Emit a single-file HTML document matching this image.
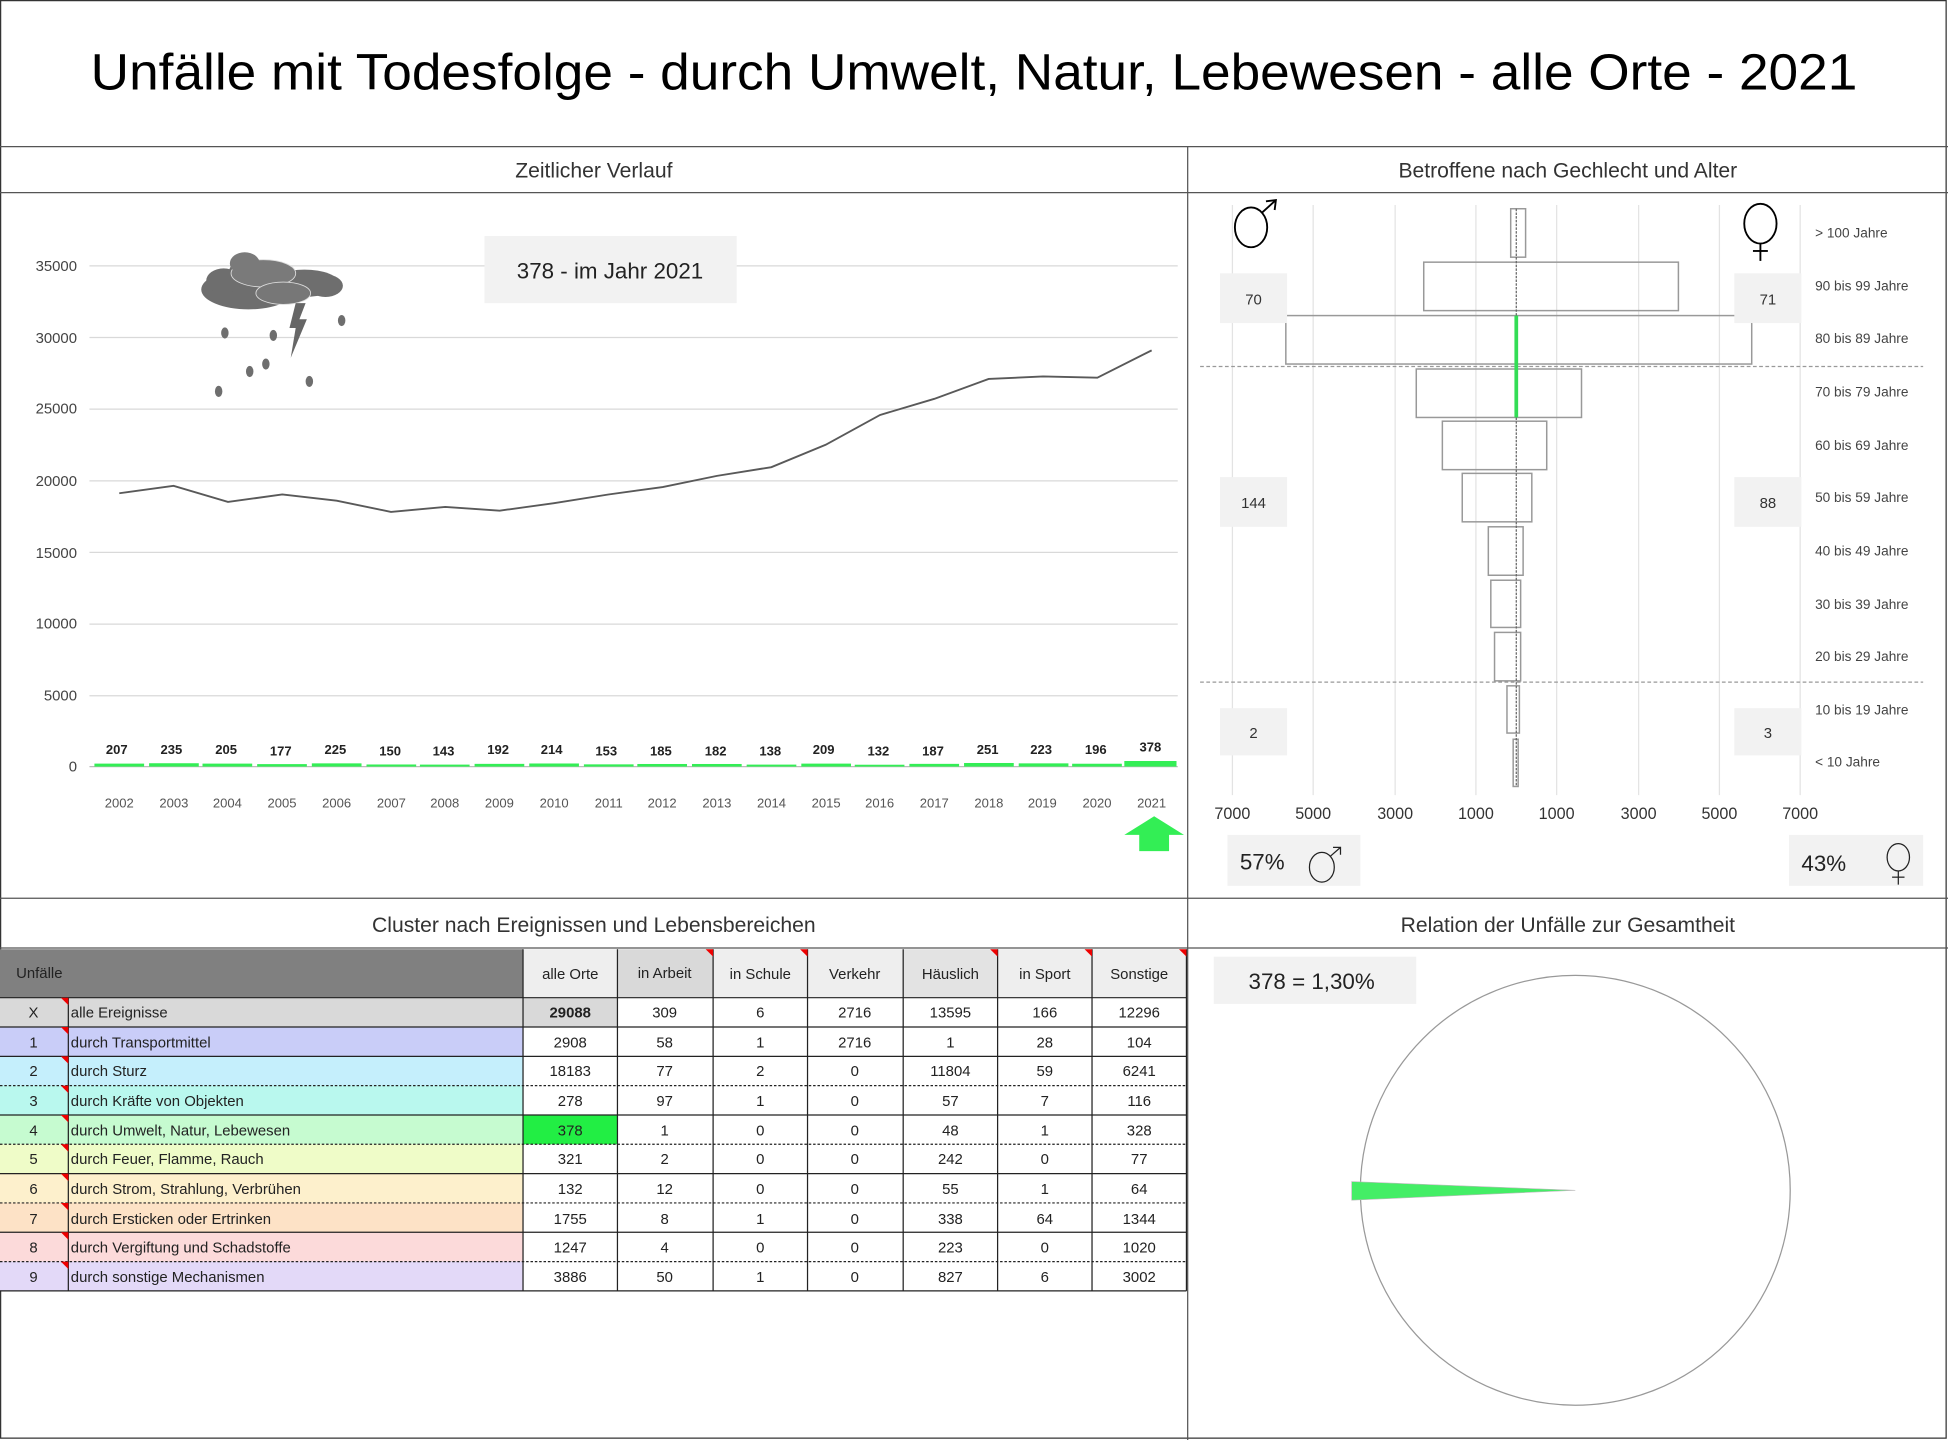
<!DOCTYPE html>
<html><head><meta charset="utf-8"><style>
html,body{margin:0;padding:0;background:#fff;}
svg{display:block;font-family:"Liberation Sans",sans-serif;}
</style></head><body>
<svg width="1948" height="1440" viewBox="0 0 1568 1159" preserveAspectRatio="none" xmlns="http://www.w3.org/2000/svg">
<rect x="0.5" y="0.5" width="1566" height="1157" fill="#fff" stroke="#333" stroke-width="1"/>
<text x="73" y="72" font-size="41" textLength="1422" lengthAdjust="spacingAndGlyphs" fill="#000">Unfälle mit Todesfolge - durch Umwelt, Natur, Lebewesen - alle Orte - 2021</text>
<g stroke="#555" stroke-width="1">
<line x1="0" y1="118" x2="1568" y2="118"/>
<line x1="0" y1="155" x2="1568" y2="155"/>
<line x1="956" y1="118" x2="956" y2="1159"/>
<line x1="0" y1="723" x2="1568" y2="723"/>
<line x1="0" y1="763" x2="1568" y2="763"/>
</g>
<g font-size="17" fill="#333" text-anchor="middle">
<text x="478" y="143">Zeitlicher Verlauf</text>
<text x="1262" y="143">Betroffene nach Gechlecht und Alter</text>
<text x="478" y="750">Cluster nach Ereignissen und Lebensbereichen</text>
<text x="1262" y="750">Relation der Unfälle zur Gesamtheit</text>
</g>
<!-- line chart -->
<g stroke="#d9d9d9" stroke-width="1">
<line x1="72" y1="214" x2="948" y2="214"/><line x1="72" y1="271.6" x2="948" y2="271.6"/>
<line x1="72" y1="329.3" x2="948" y2="329.3"/><line x1="72" y1="387" x2="948" y2="387"/>
<line x1="72" y1="444.6" x2="948" y2="444.6"/><line x1="72" y1="502.3" x2="948" y2="502.3"/>
<line x1="72" y1="560" x2="948" y2="560"/><line x1="72" y1="617" x2="948" y2="617" stroke="#bbb"/>
</g>
<g font-size="12" fill="#444" text-anchor="end">
<text x="62" y="218">35000</text><text x="62" y="276">30000</text><text x="62" y="333">25000</text>
<text x="62" y="391">20000</text><text x="62" y="449">15000</text><text x="62" y="506">10000</text>
<text x="62" y="564">5000</text><text x="62" y="621">0</text>
</g>
<polyline fill="none" stroke="#595959" stroke-width="1.5" points="96,397 139.7,391 183.5,404 227.2,398 271,403 314.7,412 358.4,408 402.2,411 445.9,405 489.7,398 533.4,392 577.1,383 620.9,376 664.6,358 708.4,334 752.1,321 795.8,305 839.6,303 883.3,304 927,282"/>
<g fill="#33ee55">
<rect x="76" y="614.6" width="40" height="2.4"/><rect x="120" y="614.3" width="40" height="2.7"/><rect x="163" y="614.6" width="40" height="2.4"/><rect x="207" y="615" width="40" height="2"/><rect x="251" y="614.4" width="40" height="2.6"/><rect x="295" y="615.3" width="40" height="1.7"/><rect x="338" y="615.4" width="40" height="1.6"/><rect x="382" y="614.8" width="40" height="2.2"/><rect x="426" y="614.5" width="40" height="2.5"/><rect x="470" y="615.2" width="40" height="1.8"/><rect x="513" y="614.9" width="40" height="2.1"/><rect x="557" y="614.9" width="40" height="2.1"/><rect x="601" y="615.4" width="40" height="1.6"/><rect x="645" y="614.6" width="40" height="2.4"/><rect x="688" y="615.5" width="40" height="1.5"/><rect x="732" y="614.8" width="40" height="2.2"/><rect x="776" y="614.1" width="40" height="2.9"/><rect x="820" y="614.4" width="40" height="2.6"/><rect x="863" y="614.7" width="40" height="2.3"/><rect x="905" y="612.5" width="42" height="4.5"/>
</g>
<g font-size="10.5" font-weight="bold" fill="#222" text-anchor="middle">
<text x="94" y="607">207</text><text x="138" y="607">235</text><text x="182" y="607">205</text><text x="226" y="608">177</text><text x="270" y="607">225</text><text x="314" y="608">150</text><text x="357" y="608">143</text><text x="401" y="607">192</text><text x="444" y="607">214</text><text x="488" y="608">153</text><text x="532" y="608">185</text><text x="576" y="608">182</text><text x="620" y="608">138</text><text x="663" y="607">209</text><text x="707" y="608">132</text><text x="751" y="608">187</text><text x="795" y="607">251</text><text x="838" y="607">223</text><text x="882" y="607">196</text><text x="926" y="605">378</text>
</g>
<g font-size="10.5" fill="#555" text-anchor="middle">
<text x="96" y="650">2002</text><text x="140" y="650">2003</text><text x="183" y="650">2004</text><text x="227" y="650">2005</text><text x="271" y="650">2006</text><text x="315" y="650">2007</text><text x="358" y="650">2008</text><text x="402" y="650">2009</text><text x="446" y="650">2010</text><text x="490" y="650">2011</text><text x="533" y="650">2012</text><text x="577" y="650">2013</text><text x="621" y="650">2014</text><text x="665" y="650">2015</text><text x="708" y="650">2016</text><text x="752" y="650">2017</text><text x="796" y="650">2018</text><text x="839" y="650">2019</text><text x="883" y="650">2020</text><text x="927" y="650">2021</text>
</g>
<polygon points="929,657 953,672 941,672 941,685 917,685 917,672 905,672" fill="#33ee55"/>
<rect x="390" y="190" width="203" height="54" fill="#f2f2f2"/>
<text x="491" y="224" font-size="18" text-anchor="middle" fill="#222">378 - im Jahr 2021</text>
<!-- cloud -->
<g fill="#6e6e6e">
<ellipse cx="200" cy="233" rx="38" ry="16"/><ellipse cx="180" cy="226" rx="14" ry="10"/><ellipse cx="200" cy="220" rx="16" ry="12"/>
<ellipse cx="245" cy="228" rx="28" ry="11"/><ellipse cx="262" cy="230" rx="14" ry="9"/>
<ellipse cx="212" cy="220" rx="26" ry="11" fill="#7a7a7a" stroke="#ddd" stroke-width="0.7"/>
<ellipse cx="197" cy="212" rx="12" ry="9" fill="#7a7a7a"/>
<ellipse cx="228" cy="236" rx="22" ry="9" fill="#777" stroke="#ddd" stroke-width="0.7"/>
<polygon points="238,244 246,244 241,257 247,257 234,288 238,264 233,264" fill="#666"/>
<ellipse cx="181" cy="268" rx="3" ry="4.5"/><ellipse cx="220" cy="270" rx="3" ry="4.5"/><ellipse cx="275" cy="258" rx="3" ry="4.5"/>
<ellipse cx="201" cy="299" rx="3" ry="4.5"/><ellipse cx="214" cy="293" rx="3" ry="4.5"/><ellipse cx="176" cy="315" rx="3" ry="4.5"/><ellipse cx="249" cy="307" rx="3" ry="4.5"/>
</g>
<!-- pyramid -->
<g stroke="#e3e3e3" stroke-width="1">
<line x1="992" y1="165" x2="992" y2="640"/><line x1="1057" y1="165" x2="1057" y2="640"/><line x1="1123" y1="165" x2="1123" y2="640"/><line x1="1188" y1="165" x2="1188" y2="640"/><line x1="1253" y1="165" x2="1253" y2="640"/><line x1="1319" y1="165" x2="1319" y2="640"/><line x1="1384" y1="165" x2="1384" y2="640"/><line x1="1449" y1="165" x2="1449" y2="640"/>
</g>
<g stroke="#999" stroke-width="1" stroke-dasharray="3,2">
<line x1="966" y1="295" x2="1548" y2="295"/><line x1="966" y1="549" x2="1548" y2="549"/>
</g>
<g fill="none" stroke="#999" stroke-width="1.2">
<rect x="1216" y="168" width="12" height="39"/>
<rect x="1146" y="211" width="205" height="39"/>
<rect x="1035" y="254" width="375" height="39"/>
<rect x="1140" y="297" width="133" height="39"/>
<rect x="1161" y="339" width="84" height="39"/>
<rect x="1177" y="381" width="56" height="39"/>
<rect x="1198" y="424" width="28" height="39"/>
<rect x="1200" y="467" width="24" height="38"/>
<rect x="1203" y="509" width="21" height="39"/>
<rect x="1213" y="552" width="10" height="38"/>
<rect x="1218" y="595" width="4" height="38"/>
</g>
<line x1="1220.5" y1="168" x2="1220.5" y2="633" stroke="#666" stroke-width="1" stroke-dasharray="2,1"/>
<rect x="1219" y="254" width="3" height="82" fill="#33dd55"/>
<g fill="#f2f2f2">
<rect x="982" y="220" width="54" height="40"/><rect x="1396" y="220" width="54" height="40"/>
<rect x="982" y="384" width="54" height="40"/><rect x="1396" y="384" width="54" height="40"/>
<rect x="982" y="570" width="54" height="38"/><rect x="1396" y="570" width="54" height="38"/>
<rect x="988" y="672" width="107" height="41"/><rect x="1440" y="672" width="108" height="41"/>
</g>
<g font-size="12" fill="#333" text-anchor="middle">
<text x="1009" y="245">70</text><text x="1423" y="245">71</text>
<text x="1009" y="409">144</text><text x="1423" y="409">88</text>
<text x="1009" y="594">2</text><text x="1423" y="594">3</text>
</g>
<g font-size="11" fill="#444">
<text x="1461" y="191">&gt; 100 Jahre</text><text x="1461" y="234">90 bis 99 Jahre</text><text x="1461" y="276">80 bis 89 Jahre</text><text x="1461" y="319">70 bis 79 Jahre</text><text x="1461" y="362">60 bis 69 Jahre</text><text x="1461" y="404">50 bis 59 Jahre</text><text x="1461" y="447">40 bis 49 Jahre</text><text x="1461" y="490">30 bis 39 Jahre</text><text x="1461" y="532">20 bis 29 Jahre</text><text x="1461" y="575">10 bis 19 Jahre</text><text x="1461" y="617">&lt; 10 Jahre</text>
</g>
<g font-size="13" fill="#333" text-anchor="middle">
<text x="992" y="659">7000</text><text x="1057" y="659">5000</text><text x="1123" y="659">3000</text><text x="1188" y="659">1000</text><text x="1253" y="659">1000</text><text x="1319" y="659">3000</text><text x="1384" y="659">5000</text><text x="1449" y="659">7000</text>
</g>
<!-- gender symbols -->
<g fill="none" stroke="#000" stroke-width="1.5">
<ellipse cx="1007" cy="183" rx="13" ry="16"/><line x1="1016" y1="171" x2="1027" y2="161"/><polyline points="1019,162 1027,161 1026,169"/>
<ellipse cx="1417" cy="180" rx="13" ry="16"/><line x1="1417" y1="196" x2="1417" y2="210"/><line x1="1411" y1="202" x2="1423" y2="202"/>
</g>
<g font-size="18" fill="#222"><text x="998" y="700">57%</text><text x="1450" y="701">43%</text></g>
<g fill="none" stroke="#222" stroke-width="1">
<ellipse cx="1064" cy="698" rx="10" ry="12"/><line x1="1071" y1="689" x2="1079" y2="682"/><polyline points="1073,682 1079,682 1079,688"/>
<ellipse cx="1528" cy="690" rx="9" ry="11"/><line x1="1528" y1="701" x2="1528" y2="712"/><line x1="1523" y1="706" x2="1533" y2="706"/>
</g>
<!-- table -->
<rect x="0" y="764" width="421" height="39" fill="#808080"/>
<rect x="421" y="764" width="76" height="39" fill="#eeeeee"/>
<rect x="497" y="764" width="77" height="39" fill="#d9d9d9"/>
<rect x="574" y="764" width="76" height="39" fill="#eeeeee"/>
<rect x="650" y="764" width="77" height="39" fill="#eeeeee"/>
<rect x="727" y="764" width="76" height="39" fill="#e3e3e3"/>
<rect x="803" y="764" width="76" height="39" fill="#eeeeee"/>
<rect x="879" y="764" width="76" height="39" fill="#eeeeee"/>
<g>
<rect x="0" y="803" width="421" height="23.6" fill="#d9d9d9"/><rect x="421" y="803" width="76" height="23.6" fill="#d9d9d9"/>
<rect x="0" y="826.6" width="421" height="23.6" fill="#c9cdf8"/>
<rect x="0" y="850.2" width="421" height="23.6" fill="#c5effc"/>
<rect x="0" y="873.8" width="421" height="23.6" fill="#b9f8ee"/>
<rect x="0" y="897.4" width="421" height="23.6" fill="#c6fbd0"/><rect x="421" y="897.4" width="76" height="23.6" fill="#22ee44"/>
<rect x="0" y="921" width="421" height="23.6" fill="#effcc8"/>
<rect x="0" y="944.6" width="421" height="23.6" fill="#fdf0cc"/>
<rect x="0" y="968.2" width="421" height="23.6" fill="#fde2c6"/>
<rect x="0" y="991.8" width="421" height="23.6" fill="#fcdada"/>
<rect x="0" y="1015.4" width="421" height="23.6" fill="#e3d9f8"/>
</g>
<g stroke="#222" stroke-width="1">
<line x1="0" y1="803" x2="955" y2="803"/><line x1="0" y1="826.6" x2="955" y2="826.6"/><line x1="0" y1="850.2" x2="955" y2="850.2"/>
<line x1="0" y1="897.4" x2="955" y2="897.4"/><line x1="0" y1="944.6" x2="955" y2="944.6"/><line x1="0" y1="991.8" x2="955" y2="991.8"/>
<line x1="0" y1="1039" x2="955" y2="1039"/>
<line x1="55" y1="803" x2="55" y2="1039"/><line x1="421" y1="764" x2="421" y2="1039"/><line x1="497" y1="764" x2="497" y2="1039"/><line x1="574" y1="764" x2="574" y2="1039"/><line x1="650" y1="764" x2="650" y2="1039"/><line x1="727" y1="764" x2="727" y2="1039"/><line x1="803" y1="764" x2="803" y2="1039"/><line x1="879" y1="764" x2="879" y2="1039"/><line x1="955" y1="764" x2="955" y2="1039"/>
</g>
<g stroke="#222" stroke-width="1" stroke-dasharray="2,1.5">
<line x1="0" y1="873.8" x2="955" y2="873.8"/><line x1="0" y1="921" x2="955" y2="921"/><line x1="0" y1="968.2" x2="955" y2="968.2"/><line x1="0" y1="1015.4" x2="955" y2="1015.4"/>
</g>
<g fill="#e00">
<polygon points="49,803 55,803 55,809"/><polygon points="49,826.6 55,826.6 55,832.6"/><polygon points="49,850.2 55,850.2 55,856.2"/><polygon points="49,873.8 55,873.8 55,879.8"/><polygon points="49,897.4 55,897.4 55,903.4"/><polygon points="49,921 55,921 55,927"/><polygon points="49,944.6 55,944.6 55,950.6"/><polygon points="49,968.2 55,968.2 55,974.2"/><polygon points="49,991.8 55,991.8 55,997.8"/><polygon points="49,1015.4 55,1015.4 55,1021.4"/>
<polygon points="568,764 574,764 574,770"/><polygon points="644,764 650,764 650,770"/><polygon points="797,764 803,764 803,770"/><polygon points="873,764 879,764 879,770"/><polygon points="949,764 955,764 955,770"/>
</g>
<g font-size="12" fill="#222">
<text x="13" y="787" fill="#222">Unfälle</text>
<text x="459" y="788" text-anchor="middle">alle Orte</text><text x="535" y="787" text-anchor="middle">in Arbeit</text><text x="612" y="788" text-anchor="middle">in Schule</text><text x="688" y="788" text-anchor="middle">Verkehr</text><text x="765" y="788" text-anchor="middle">Häuslich</text><text x="841" y="788" text-anchor="middle">in Sport</text><text x="917" y="788" text-anchor="middle">Sonstige</text>
</g>
<g font-size="12" fill="#222">
<g text-anchor="middle">
<text x="27" y="819">X</text><text x="27" y="843">1</text><text x="27" y="866">2</text><text x="27" y="890">3</text><text x="27" y="914">4</text><text x="27" y="937">5</text><text x="27" y="961">6</text><text x="27" y="985">7</text><text x="27" y="1008">8</text><text x="27" y="1032">9</text>
</g>
<text x="57" y="819">alle Ereignisse</text><text x="57" y="843">durch Transportmittel</text><text x="57" y="866">durch Sturz</text><text x="57" y="890">durch Kräfte von Objekten</text><text x="57" y="914">durch Umwelt, Natur, Lebewesen</text><text x="57" y="937">durch Feuer, Flamme, Rauch</text><text x="57" y="961">durch Strom, Strahlung, Verbrühen</text><text x="57" y="985">durch Ersticken oder Ertrinken</text><text x="57" y="1008">durch Vergiftung und Schadstoffe</text><text x="57" y="1032">durch sonstige Mechanismen</text>
<g text-anchor="middle">
<text x="459" y="819" font-weight="bold">29088</text><text x="535" y="819">309</text><text x="612" y="819">6</text><text x="688" y="819">2716</text><text x="765" y="819">13595</text><text x="841" y="819">166</text><text x="917" y="819">12296</text>
<text x="459" y="843">2908</text><text x="535" y="843">58</text><text x="612" y="843">1</text><text x="688" y="843">2716</text><text x="765" y="843">1</text><text x="841" y="843">28</text><text x="917" y="843">104</text>
<text x="459" y="866">18183</text><text x="535" y="866">77</text><text x="612" y="866">2</text><text x="688" y="866">0</text><text x="765" y="866">11804</text><text x="841" y="866">59</text><text x="917" y="866">6241</text>
<text x="459" y="890">278</text><text x="535" y="890">97</text><text x="612" y="890">1</text><text x="688" y="890">0</text><text x="765" y="890">57</text><text x="841" y="890">7</text><text x="917" y="890">116</text>
<text x="459" y="914">378</text><text x="535" y="914">1</text><text x="612" y="914">0</text><text x="688" y="914">0</text><text x="765" y="914">48</text><text x="841" y="914">1</text><text x="917" y="914">328</text>
<text x="459" y="937">321</text><text x="535" y="937">2</text><text x="612" y="937">0</text><text x="688" y="937">0</text><text x="765" y="937">242</text><text x="841" y="937">0</text><text x="917" y="937">77</text>
<text x="459" y="961">132</text><text x="535" y="961">12</text><text x="612" y="961">0</text><text x="688" y="961">0</text><text x="765" y="961">55</text><text x="841" y="961">1</text><text x="917" y="961">64</text>
<text x="459" y="985">1755</text><text x="535" y="985">8</text><text x="612" y="985">1</text><text x="688" y="985">0</text><text x="765" y="985">338</text><text x="841" y="985">64</text><text x="917" y="985">1344</text>
<text x="459" y="1008">1247</text><text x="535" y="1008">4</text><text x="612" y="1008">0</text><text x="688" y="1008">0</text><text x="765" y="1008">223</text><text x="841" y="1008">0</text><text x="917" y="1008">1020</text>
<text x="459" y="1032">3886</text><text x="535" y="1032">50</text><text x="612" y="1032">1</text><text x="688" y="1032">0</text><text x="765" y="1032">827</text><text x="841" y="1032">6</text><text x="917" y="1032">3002</text>
</g>
</g>
<!-- pie -->
<circle cx="1268" cy="958" r="173" fill="#fff" stroke="#999" stroke-width="1"/>
<polygon points="1268,958 1088,951 1088,966" fill="#44ee66" stroke="#bbb" stroke-width="0.5"/>
<rect x="977" y="770" width="163" height="38" fill="#f2f2f2"/>
<text x="1005" y="796" font-size="18" fill="#222">378 =  1,30%</text>
</svg>
</body></html>
